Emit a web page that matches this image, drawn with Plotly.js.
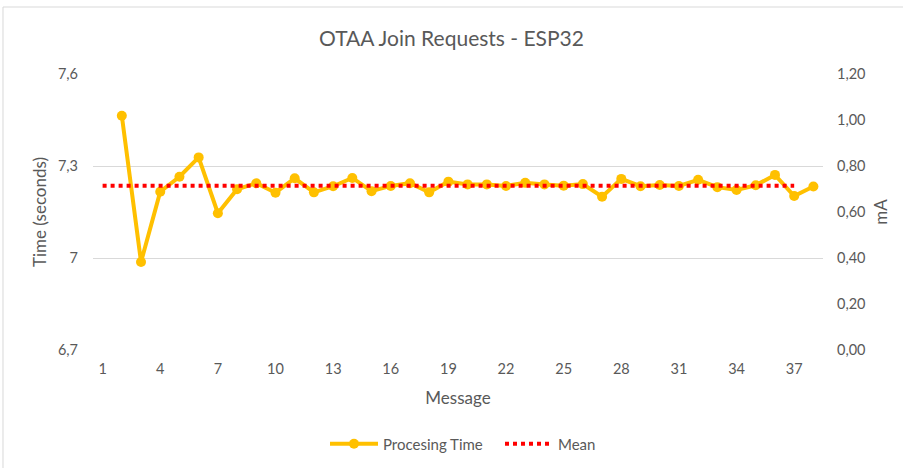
<!DOCTYPE html>
<html>
<head>
<meta charset="utf-8">
<script src="https://cdn.plot.ly/plotly-3.0.1.min.js"></script>
<style>html,body{margin:0;padding:0;background:#fff;}#chart{width:903px;height:468px;}</style>
</head>
<body>
<div id="chart"></div>
<script>
// Message numbers (category axis)
const messages = [1,2,3,4,5,6,7,8,9,10,11,12,13,14,15,16,17,18,19,20,21,22,23,24,25,26,27,28,29,30,31,32,33,34,35,36,37,38];
// Processing time (seconds); message 1 has no value
const procTime = [null,7.464,6.987,7.216,7.265,7.328,7.146,7.224,7.244,7.213,7.260,7.214,7.234,7.261,7.218,7.235,7.244,7.214,7.249,7.240,7.240,7.235,7.245,7.240,7.236,7.241,7.200,7.258,7.234,7.238,7.235,7.255,7.231,7.222,7.237,7.271,7.202,7.233];
// Mean line (messages 1..37)
const meanTime = [7.236,7.236,7.236,7.236,7.236,7.236,7.236,7.236,7.236,7.236,7.236,7.236,7.236,7.236,7.236,7.236,7.236,7.236,7.236,7.236,7.236,7.236,7.236,7.236,7.236,7.236,7.236,7.236,7.236,7.236,7.236,7.236,7.236,7.236,7.236,7.236,7.236,null];
// Tick labels
const xTickVals = [1,4,7,10,13,16,19,22,25,28,31,34,37];
const yTickVals = [6.7,7.0,7.3,7.6];
const yTickText = ["6,7","7","7,3","7,6"];
const y2TickVals = [0,0.2,0.4,0.6,0.8,1.0,1.2];
const y2TickText = ["0,00","0,20","0,40","0,60","0,80","1,00","1,20"];

const grey = '#595959';
const font = 'Lato, "Open Sans", sans-serif';

const traces = [
  {
    x: messages, y: procTime, name: 'Procesing Time', type: 'scatter', mode: 'lines+markers',
    line: {color: '#FFC000', width: 4}, marker: {color: '#FFC000', size: 10},
    connectgaps: false, hoverinfo: 'skip'
  },
  {
    x: messages, y: meanTime, name: 'Mean', type: 'scatter', mode: 'lines',
    line: {color: '#FF0000', width: 4, dash: '4px,4px'}, hoverinfo: 'skip'
  },
  {
    x: [messages[0]], y: [null], yaxis: 'y2', type: 'scatter', mode: 'lines',
    showlegend: false, hoverinfo: 'skip'
  }
];

const layout = {
  width: 903, height: 468,
  paper_bgcolor: '#ffffff', plot_bgcolor: '#ffffff',
  margin: {l: 93, r: 80, t: 74, b: 118},
  font: {family: font, color: grey, size: 14},
  title: {text: 'OTAA Join Requests - ESP32', font: {size: 21, color: grey, family: font},
          x: 0.5, xref: 'container', y: 1 - 39/468, yref: 'container', yanchor: 'middle',
          automargin: false},
  xaxis: {
    automargin: false,
    range: [0.5, 38.5], tickvals: xTickVals, showgrid: false, zeroline: false,
    showline: false, ticks: '', tickfont: {size: 14.5, color: grey},
    ticklabelstandoff: 8,
    title: {text: 'Message', font: {size: 17, color: grey}, standoff: 16}
  },
  yaxis: {
    automargin: false,
    range: [6.7, 7.6], tickvals: yTickVals, ticktext: yTickText,
    showgrid: true, gridcolor: '#d9d9d9', gridwidth: 1, zeroline: false, showline: false,
    ticks: '', tickfont: {size: 14.5, color: grey}, ticklabelstandoff: 14,
    title: {text: 'Time (seconds)', font: {size: 17, color: grey}, standoff: 6}
  },
  yaxis2: {
    automargin: false,
    overlaying: 'y', side: 'right', range: [0, 1.2], tickvals: y2TickVals, ticktext: y2TickText,
    showgrid: false, zeroline: false, showline: false, ticks: '',
    tickfont: {size: 14.5, color: grey}, ticklabelstandoff: 13,
    title: {text: 'mA', font: {size: 17, color: grey}, standoff: 10}
  },
  showlegend: true,
  legend: {orientation: 'h', xref: 'container', yref: 'container', x: 325/903, xanchor: 'left',
           y: 1 - 444/468, yanchor: 'middle',
           font: {size: 15, color: grey}, itemwidth: 48, entrywidth: 112, entrywidthmode: 'pixels',
           bgcolor: 'rgba(0,0,0,0)'},
  shapes: [
    {type: 'line', xref: 'paper', yref: 'paper', x0: -0.1233, x1: 1.2, y0: 1 + 67/276, y1: 1 + 67/276,
     line: {color: '#d9d9d9', width: 1}},
    {type: 'line', xref: 'paper', yref: 'paper', x0: -0.1233, x1: -0.1233, y0: 1 + 67/276, y1: -0.5,
     line: {color: '#d9d9d9', width: 1}}
  ]
};

Plotly.newPlot('chart', traces, layout, {displayModeBar: false, staticPlot: true});
</script>
</body>
</html>
